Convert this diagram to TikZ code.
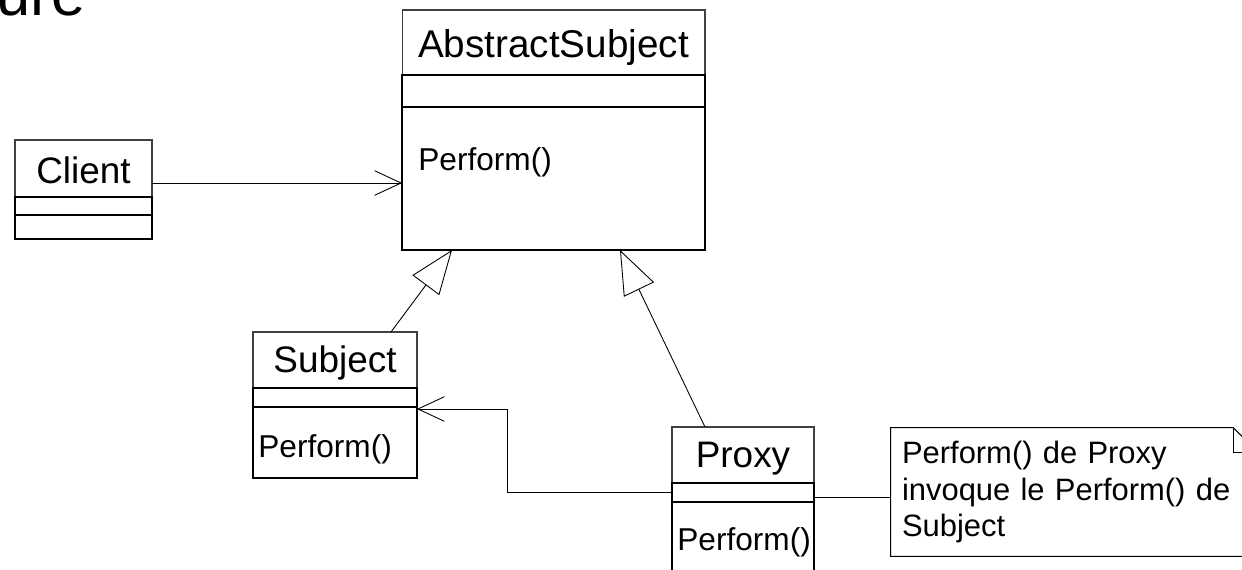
\documentclass[tikz,border=0pt]{standalone}
\usepackage{fontspec}
\setmainfont{Liberation Sans}
\usetikzlibrary{positioning,arrows.meta}
\tikzstyle{classname}=[draw=black!75,line width=0.6pt,inner sep=0,outer sep=0,text height=18.3pt,text depth=4.6pt,font=\fontsize{21}{25}\selectfont]
\tikzstyle{compart}=[draw,line width=0.8pt,inner sep=0,outer sep=0]
\tikzstyle{method}=[inner sep=0,anchor=base west,font=\fontsize{18}{22}\selectfont]
\tikzstyle{notebox}=[inner xsep=0.22cm,inner ysep=0,text width=6.9cm,align=left,minimum height=2.56cm,font=\fontsize{17.6}{20.5}\selectfont]
\tikzstyle{assoc}=[line width=0.5pt,-{Straight Barb[length=15pt,width=14pt]}]
\tikzstyle{inherit}=[line width=0.5pt,-{Triangle[open,length=25pt,width=19pt]}]

\begin{document}
\begin{tikzpicture}[x=0.02cm,y=-0.02cm]
\useasboundingbox (0,0) rectangle (1242,569);
\clip (0,0) rectangle (1242,569);

\node[anchor=base west,inner sep=0,font=\fontsize{35}{40}\selectfont] (title) at (-4,15) {ure};

% Client
\node[classname,minimum width=2.74cm,minimum height=1.14cm,text height=21.6pt] (clientName) at (83.5,168.5) {Client};
\node[compart,minimum width=2.74cm,minimum height=0.36cm,below=0pt of clientName] (clientAttr) {};
\node[compart,minimum width=2.74cm,minimum height=0.48cm,below=0pt of clientAttr] (clientOps) {};

% AbstractSubject
\node[classname,minimum width=6.06cm,minimum height=1.3cm,text height=21.6pt,font=\fontsize{22}{26}\selectfont] (absName) at (553.5,42.5) {AbstractSubject};
\node[compart,minimum width=6.06cm,minimum height=0.64cm,below=0pt of absName] (absAttr) {};
\node[compart,minimum width=6.06cm,minimum height=2.86cm,below=0pt of absAttr] (absOps) {};
\node[method] (absPerf) at (418,170) {Perform()};

% Subject
\node[classname,minimum width=3.28cm,minimum height=1.12cm] (subjName) at (335,360) {Subject};
\node[compart,minimum width=3.28cm,minimum height=0.38cm,below=0pt of subjName] (subjAttr) {};
\node[compart,minimum width=3.28cm,minimum height=1.42cm,below=0pt of subjAttr] (subjOps) {};
\node[method] (subjPerf) at (258,457) {Perform()};

% Proxy
\node[classname,minimum width=2.84cm,minimum height=1.12cm] (proxyName) at (743,455) {Proxy};
\node[compart,minimum width=2.84cm,minimum height=0.38cm,below=0pt of proxyName] (proxyAttr) {};
\node[compart,minimum width=2.84cm,minimum height=2cm,below=0pt of proxyAttr] (proxyOps) {};
\node[method] (proxyPerf) at (677,550) {Perform()};

% note
\node[notebox] (note) at (1074.5,492) {Perform() de Proxy\\invoque le Perform() de\\Subject};
\draw[line width=0.6pt] (note.north west) -- ([xshift=-0.5cm]note.north east) -- ([yshift=-0.5cm]note.north east) -- (note.south east) -- (note.south west) -- cycle;
\draw[line width=0.6pt] ([xshift=-0.5cm]note.north east) |- ([yshift=-0.5cm]note.north east);

% links
\draw[assoc] ([yshift=-0.29cm]clientName.east) -- ([yshift=-0.29cm]clientName.east -| absOps.west);
\draw[inherit] ([xshift=1.12cm]subjName.north) -- ([xshift=-2.03cm]absOps.south);
\draw[inherit] ([xshift=-0.76cm]proxyName.north) -- ([xshift=1.33cm]absOps.south);
\draw[assoc] (proxyAttr.west) -- ++(-165,0) |- ([yshift=-0.04cm]subjOps.north east);
\draw[line width=0.5pt] ([yshift=-0.09cm]proxyAttr.east) -- ([yshift=-0.09cm]proxyAttr.east -| note.west);
\end{tikzpicture}
\end{document}
